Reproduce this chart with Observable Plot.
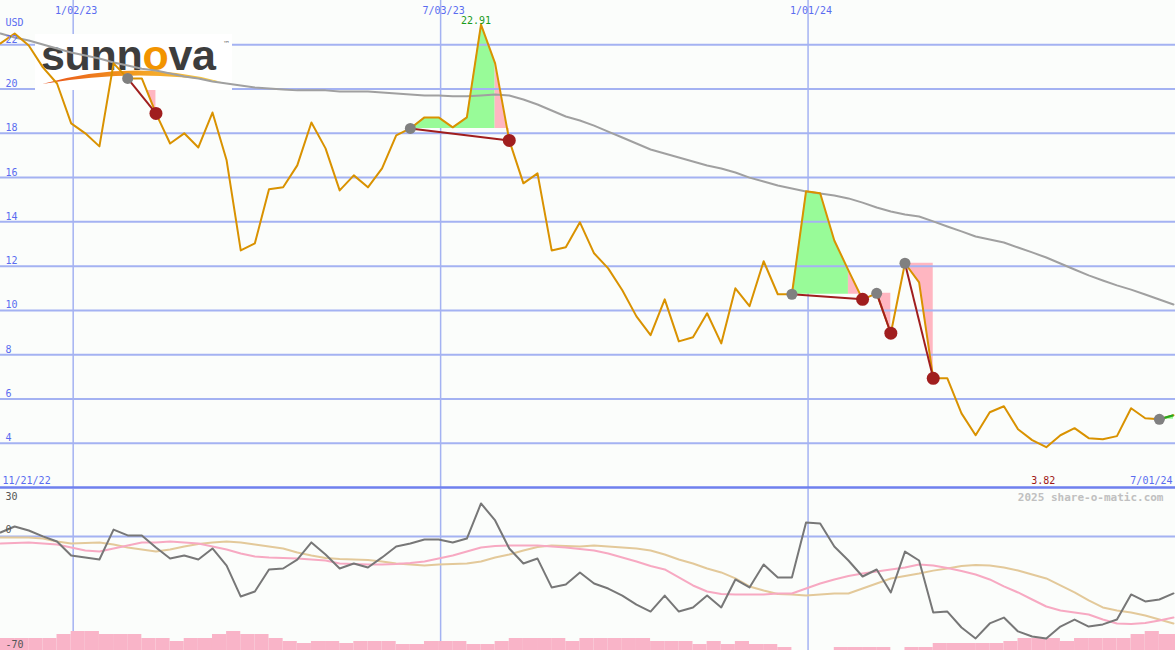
<!DOCTYPE html>
<html><head><meta charset="utf-8">
<script src="https://cdn.jsdelivr.net/npm/d3@7"></script>
<script src="https://cdn.jsdelivr.net/npm/@observablehq/plot@0.6"></script>
<style>
html,body{margin:0;padding:0;background:#fbfdfb;}
#chart{width:1175px;height:650px;overflow:hidden;}
#chart svg{display:block;}
</style></head><body><div id="chart"></div>
<script>
// ---- data (weekly, first week 2022-11-27) ----
const firstWeek = "2022-11-27";
const lastDay = "2024-07-01";
const price = [22.06,22.51,21.97,20.98,20.25,18.45,18.00,17.41,21.16,20.48,
  20.48,18.90,17.54,18.00,17.36,18.94,16.78,12.71,13.03,15.47,
  15.56,16.55,18.49,17.32,15.42,16.10,15.56,16.42,17.91,18.22,
  18.72,18.72,18.27,18.72,22.91,21.16,17.68,15.74,16.19,12.71,
  12.85,13.98,12.58,11.90,10.91,9.73,8.88,10.50,8.60,8.79,
  9.87,8.51,11.00,10.19,12.22,10.73,10.73,15.38,15.29,13.16,
  11.81,10.50,10.77,8.97,12.13,11.27,6.93,6.93,5.35,4.36,
  5.40,5.67,4.63,4.14,3.82,4.36,4.68,4.23,4.18,4.32,
  5.58,5.13,5.08,5.26];
const movingAvg = [22.51,22.33,22.19,22.01,21.83,21.65,21.52,21.38,21.20,21.06,
  20.92,20.84,20.70,20.57,20.48,20.34,20.25,20.16,20.07,20.03,
  19.98,19.94,19.94,19.94,19.89,19.89,19.89,19.84,19.80,19.75,
  19.71,19.71,19.67,19.67,19.71,19.75,19.71,19.53,19.30,19.03,
  18.76,18.58,18.35,18.08,17.81,17.54,17.27,17.09,16.91,16.73,
  16.55,16.41,16.23,16.00,15.82,15.64,15.51,15.37,15.28,15.19,
  15.06,14.87,14.65,14.47,14.33,14.24,14.02,13.79,13.57,13.34,
  13.20,13.07,12.84,12.62,12.39,12.12,11.85,11.58,11.35,11.13,
  10.94,10.72,10.49,10.27];
const momentum = [2.4,6.1,3.6,0,-3.1,-11.7,-12.9,-14.2,4.2,0.6,
  0.6,-6.8,-13.6,-11.7,-14.2,-7.4,-17.9,-36.9,-33.8,-20.3,
  -19.7,-14.2,-3.7,-11.1,-19.7,-16.6,-19.1,-12.9,-6.2,-4.4,
  -1.9,-1.9,-3.7,-1.3,20.2,9.8,-7.4,-16.6,-13.6,-31.3,
  -29.5,-22.1,-28.9,-32.0,-36.3,-41.8,-46.1,-36.3,-46.1,-43.6,
  -36.3,-43.6,-26.4,-31.3,-17.2,-25.2,-25.2,8.5,7.9,-6.2,
  -14.8,-24.6,-20.3,-34.4,-9.3,-14.8,-46.7,-46.1,-55.9,-62.6,
  -53.4,-49.8,-58.3,-61.4,-62.6,-55.3,-51.0,-55.3,-54.0,-51.0,
  -35.6,-39.9,-38.7,-35.0];
const signalFast = [-4.4,-4.0,-3.7,-4.4,-5.0,-6.8,-8.7,-9.3,-7.4,-5.6,
  -3.7,-3.7,-3.1,-3.7,-4.4,-6.2,-8.0,-10.5,-12.3,-12.9,
  -13.3,-13.6,-14.2,-14.8,-16.6,-16.9,-17.2,-17.2,-16.9,-16.3,
  -15.4,-13.6,-11.7,-9.3,-6.8,-5.9,-5.6,-5.6,-5.6,-6.2,
  -6.8,-7.7,-8.7,-10.5,-12.9,-15.4,-18.2,-20.3,-25.2,-30.1,
  -33.8,-35.3,-35.6,-35.6,-35.6,-35.0,-35.0,-32.0,-28.9,-26.4,
  -24.3,-22.8,-21.5,-20.3,-19.1,-17.2,-17.8,-19.4,-21.2,-23.4,
  -26.4,-30.7,-34.4,-38.7,-43.0,-45.5,-46.7,-47.9,-51.0,-53.4,
  -53.7,-53.1,-51.6,-49.8];
const signalSlow = [-0.7,-0.7,-0.7,-1.3,-3.1,-4.4,-4.0,-3.7,-5.0,-6.8,
  -8.0,-9.3,-8.0,-6.2,-4.7,-3.7,-3.1,-3.7,-5.0,-6.2,
  -7.4,-9.9,-11.7,-13.3,-13.9,-14.2,-14.5,-15.4,-16.6,-17.2,
  -17.8,-17.2,-16.9,-16.6,-15.4,-12.9,-11.1,-8.7,-6.5,-5.6,
  -5.9,-6.2,-5.6,-6.2,-6.8,-7.4,-8.7,-11.1,-14.2,-16.6,
  -19.7,-22.1,-25.8,-30.7,-33.2,-35.3,-35.6,-36.3,-35.6,-35.0,
  -35.0,-32.0,-28.9,-25.8,-24.3,-22.8,-21.0,-19.7,-18.2,-17.6,
  -17.8,-19.1,-20.9,-23.4,-25.8,-30.1,-34.4,-39.3,-43.6,-45.5,
  -46.7,-48.5,-51.0,-53.4];
const volume = [12,12,12,12,16,19,19,16,16,16,
  12,12,9,12,12,16,19,16,16,12,
  9,7,9,9,7,9,9,9,6,6,
  9,9,9,6,6,9,12,12,12,12,
  9,12,12,12,12,12,9,9,9,6,
  9,6,9,6,6,3,0,0,0,3,
  3,3,3,0,3,3,7,7,7,7,
  7,9,12,12,12,9,12,12,12,12,
  16,19,16,16];
const buyDates = ["2023-01-29","2023-06-18","2023-12-24","2024-02-04","2024-02-18","2024-06-23"];
const sellDates = ["2023-02-12","2023-08-06","2024-01-28","2024-02-11","2024-03-03",null];
const priceTicks = [4,6,8,10,12,14,16,18,20,22];
const dateTicks = ["2023-01-02","2023-07-03","2024-01-01"];
const dateTickLabels = ["1/02/23","7/03/23","1/01/24"];
const rangeLabels = ["11/21/22","7/01/24"];
const unitLabel = "USD";
const oscTopTick = [30];
const oscTicks = [0,-70];
const credit = "2025 share-o-matic.com";
const logoName = ["sunn","o","va"];

// ---- styling ----
const GRID = "#a4b2f2", SEP = "#6f80ee", BLUE = "#5a6cf0";
const ORANGE = "#d99200", GREEN_FILL = "#98fb98", PINK_FILL = "#ffb6c1";
const RED = "#a01e1e", FONT = "DejaVu Sans Mono, monospace";
const VOL_UNIT = 1 / 1.63; // oscillator units per million shares

// ---- derived rows ----
const weeks = d3.utcSunday.range(new Date(firstWeek), new Date(lastDay));
const idx = new Map(weeks.map((d, i) => [+d, i]));
const rows = weeks.map((d, i) => ({
  date: d, end: d3.utcDay.offset(d, 7), price: price[i], avg: movingAvg[i],
  mom: momentum[i], fast: signalFast[i], slow: signalSlow[i], vol: volume[i]
}));
const trades = buyDates.map((b, k) => {
  const a = idx.get(+new Date(b));
  const e = sellDates[k] ? idx.get(+new Date(sellDates[k])) : weeks.length - 1;
  return {a, e, open: !sellDates[k], entry: price[a]};
});
const fillRows = [];
let gid = 0;
for (const t of trades) {
  let prev = null;
  for (let k = t.a; k < t.e; k++) {
    const color = price[k + 1] >= t.entry ? GREEN_FILL : PINK_FILL;
    if (color !== prev) { gid++; fillRows.push({date: weeks[k], y1: t.entry, y2: price[k], g: gid, color}); prev = color; }
    fillRows.push({date: weeks[k + 1], y1: t.entry, y2: price[k + 1], g: gid, color});
  }
}
const links = trades.map(t => ({x1: weeks[t.a], y1: price[t.a], x2: weeks[t.e], y2: price[t.e], open: t.open}));
const buys = trades.map(t => ({date: weeks[t.a], price: price[t.a]}));
const sells = trades.filter(t => !t.open).map(t => ({date: weeks[t.e], price: price[t.e]}));
const peak = rows.reduce((a, b) => b.price > a.price ? b : a);
const low = rows.reduce((a, b) => b.price < a.price ? b : a);
const xDomain = [new Date(firstWeek), new Date(lastDay)];
const tickDates = dateTicks.map(d => new Date(d));

function logoMark() {
  const g = d3.create("svg:g").attr("text-anchor", "start");
  const lg = g.append("defs").append("linearGradient").attr("id", "swoosh")
    .attr("x1", "0").attr("x2", "1").attr("y1", "0").attr("y2", "0");
  lg.append("stop").attr("offset", "0").attr("stop-color", "#e8501c");
  lg.append("stop").attr("offset", "0.5").attr("stop-color", "#f39a1e");
  lg.append("stop").attr("offset", "1").attr("stop-color", "#f8d24a");
  g.append("rect").attr("x", 35).attr("y", 34).attr("width", 197).attr("height", 56).attr("fill", "#ffffff");
  const t = g.append("text").attr("x", 41).attr("y", 70).attr("text-anchor", "start")
    .attr("font-family", "Liberation Sans, Arial, sans-serif").attr("font-size", 43).attr("font-weight", "bold")
    .attr("fill", "#3d3d3d").attr("letter-spacing", -0.3);
  t.append("tspan").text(logoName[0]);
  t.append("tspan").attr("fill", "#f29400").text(logoName[1]);
  t.append("tspan").text(logoName[2]);
  g.append("path").attr("d", "M42,84 Q135,58 222,82 Q135,68 42,84 Z").attr("fill", "url(#swoosh)");
  g.append("text").attr("x", 223).attr("y", 46).attr("text-anchor", "start").attr("font-family", "DejaVu Sans, sans-serif")
    .attr("font-size", 7).attr("fill", "#666").text("\u2122");
  return g.node();
}

const main = Plot.plot({
  width: 1175, height: 487, margin: 0,
  style: {background: "transparent", fontFamily: FONT, fontSize: "10px", overflow: "visible"},
  x: {type: "utc", domain: xDomain, axis: null},
  y: {domain: [2, 24], axis: null},
  color: {type: "identity"},
  marks: [
    Plot.ruleX(tickDates, {stroke: GRID, strokeWidth: 1.5}),
    Plot.areaY(fillRows, {x: "date", y1: "y1", y2: "y2", z: "g", fill: "color"}),
    Plot.ruleY(priceTicks, {stroke: GRID, strokeWidth: 2}),
    Plot.ruleY([2], {stroke: SEP, strokeWidth: 2}),
    logoMark,
    Plot.line(rows, {x: "date", y: "avg", stroke: "#a0a0a0", strokeWidth: 2}),
    Plot.line(rows, {x: "date", y: "price", stroke: ORANGE, strokeWidth: 2}),
    Plot.link(links, {x1: "x1", y1: "y1", x2: "x2", y2: "y2", stroke: d => d.open ? "#22aa22" : RED, strokeWidth: 2}),
    Plot.dot(buys, {x: "date", y: "price", r: 5.5, fill: "#808080"}),
    Plot.dot(sells, {x: "date", y: "price", r: 6.5, fill: RED}),
    Plot.text(priceTicks, {y: d => d, text: d => String(d), frameAnchor: "left", textAnchor: "start", lineAnchor: "bottom", dx: 5, dy: -2, fill: BLUE}),
    Plot.text([unitLabel], {text: d => d, frameAnchor: "top-left", textAnchor: "start", lineAnchor: "bottom", dx: 5, dy: 25, fill: BLUE}),
    Plot.text(tickDates, {x: d => d, text: (d, i) => dateTickLabels[i], frameAnchor: "top", lineAnchor: "bottom", dx: 3, dy: 13, fill: BLUE}),
    Plot.text([rangeLabels[0]], {text: d => d, frameAnchor: "bottom-left", textAnchor: "start", lineAnchor: "bottom", dx: 2, dy: -4, fill: BLUE}),
    Plot.text([rangeLabels[1]], {text: d => d, frameAnchor: "bottom-right", textAnchor: "end", lineAnchor: "bottom", dx: -3, dy: -4, fill: BLUE}),
    Plot.text([peak], {x: "date", y: "price", text: d => d.price.toFixed(2), lineAnchor: "bottom", dx: -5, dy: -1, fill: "#1a9a1a"}),
    Plot.text([low], {x: "date", text: d => d.price.toFixed(2), frameAnchor: "bottom", lineAnchor: "bottom", dx: -3, dy: -4, fill: "#a01818"})
  ]
});

const osc = Plot.plot({
  width: 1175, height: 163, margin: 0,
  style: {background: "transparent", fontFamily: FONT, fontSize: "10px", overflow: "visible"},
  x: {type: "utc", domain: xDomain, axis: null},
  y: {domain: [-70, 30], axis: null},
  color: {type: "identity"},
  marks: [
    Plot.ruleX(tickDates, {stroke: GRID, strokeWidth: 1.5}),
    Plot.ruleY([0], {stroke: GRID, strokeWidth: 2}),
    Plot.rect(rows, {x1: "date", x2: "end", y1: () => -70, y2: d => -70 + d.vol * VOL_UNIT, fill: "#f9b4c8"}),
    Plot.ruleY([30], {stroke: SEP, strokeWidth: 2}),
    Plot.line(rows, {x: "date", y: "slow", stroke: "#e3c99a", strokeWidth: 2}),
    Plot.line(rows, {x: "date", y: "fast", stroke: "#f7a9c2", strokeWidth: 2}),
    Plot.line(rows, {x: "date", y: "mom", stroke: "#777777", strokeWidth: 2}),
    Plot.text(oscTopTick, {y: d => d, text: d => String(d), frameAnchor: "left", textAnchor: "start", lineAnchor: "bottom", dx: 5, dy: 12, fill: "#555"}),
    Plot.text(oscTicks, {y: d => d, text: d => String(d), frameAnchor: "left", textAnchor: "start", lineAnchor: "bottom", dx: 5, dy: -3, fill: "#555"}),
    Plot.text([credit], {text: d => d, frameAnchor: "top-right", textAnchor: "end", lineAnchor: "bottom", dx: -12, dy: 13, fill: "#c0c0c0", fontWeight: "bold", fontSize: 11})
  ]
});

const chart = document.getElementById("chart");
chart.appendChild(main);
chart.appendChild(osc);
</script>
</body></html>
